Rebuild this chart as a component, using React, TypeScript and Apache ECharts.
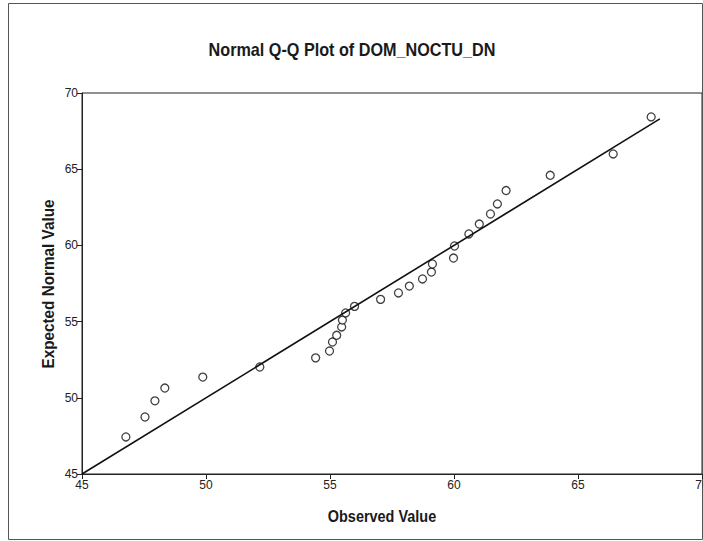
import React, { useEffect, useRef } from "react";
import * as echarts from "echarts";

const titleText = "Normal Q-Q Plot of DOM_NOCTU_DN";
const xAxisName = "Observed Value";
const yAxisName = "Expected Normal Value";

const observed = [
  46.77, 47.54, 47.94, 48.34, 49.87, 52.17, 54.42, 54.98, 55.1, 55.27, 55.47,
  55.5, 55.63, 55.99, 57.04, 57.76, 58.2, 58.73, 59.09, 59.13, 59.98, 60.02,
  60.6, 61.02, 61.47, 61.75, 62.1, 63.88, 66.42, 67.95,
];
const expected = [
  47.43, 48.74, 49.8, 50.64, 51.36, 52.02, 52.62, 53.07, 53.66, 54.1, 54.65,
  55.1, 55.57, 56.0, 56.46, 56.88, 57.33, 57.8, 58.25, 58.78, 59.17, 59.96,
  60.75, 61.4, 62.06, 62.72, 63.6, 64.6, 66.0, 68.43,
];
const refLine = [
  [45, 45],
  [68.3, 68.3],
];

export default function App() {
  const ref = useRef<HTMLDivElement>(null);
  useEffect(() => {
    if (!ref.current) return;
    const chart = echarts.init(ref.current, null, { renderer: "svg" });
    const font = "'Liberation Sans', Arial, sans-serif";
    chart.setOption({
      animation: false,
      backgroundColor: "#fff",
      grid: {
        left: 82,
        right: 1,
        top: 93,
        bottom: 67,
        outerBoundsMode: "none",
        containLabel: false,
        show: true,
        borderColor: "#222",
        borderWidth: 1,
        backgroundColor: "transparent",
      },
      xAxis: {
        type: "value",
        min: 45,
        max: 70,
        interval: 5,
        axisLine: { show: true, lineStyle: { color: "#222", width: 1 } },
        axisTick: { show: true, length: 5, lineStyle: { color: "#222" } },
        axisLabel: { fontFamily: font, fontSize: 12, color: "#222", margin: 5 },
        splitLine: { show: false },
      },
      yAxis: {
        type: "value",
        min: 45,
        max: 70,
        interval: 5,
        axisLine: { show: true, lineStyle: { color: "#222", width: 1 } },
        axisTick: { show: true, length: 5, lineStyle: { color: "#222" } },
        axisLabel: { fontFamily: font, fontSize: 12, color: "#222", margin: 4 },
        splitLine: { show: false },
      },
      graphic: [
        {
          type: "rect",
          shape: { x: 8.5, y: 3.5, width: 694, height: 536 },
          style: { fill: "none", stroke: "#555", lineWidth: 1 },
          silent: true,
        },
        {
          type: "text",
          x: 352,
          y: 50,
          scaleX: 0.9,
          style: {
            text: titleText,
            fontFamily: font,
            fontSize: 18,
            fontWeight: "bold",
            fill: "#1a1a1a",
            textAlign: "center",
            textVerticalAlign: "middle",
          },
        },
        {
          type: "text",
          x: 382,
          y: 516,
          scaleX: 0.85,
          style: {
            text: xAxisName,
            fontFamily: font,
            fontSize: 17,
            fontWeight: "bold",
            fill: "#1a1a1a",
            textAlign: "center",
            textVerticalAlign: "middle",
          },
        },
        {
          type: "text",
          x: 48,
          y: 284,
          rotation: Math.PI / 2,
          scaleX: 0.9,
          style: {
            text: yAxisName,
            fontFamily: font,
            fontSize: 17,
            fontWeight: "bold",
            fill: "#1a1a1a",
            textAlign: "center",
            textVerticalAlign: "middle",
          },
        },
      ],
      series: [
        {
          type: "line",
          data: refLine,
          symbol: "none",
          lineStyle: { color: "#111", width: 1.6 },
          silent: true,
        },
        {
          type: "scatter",
          data: observed.map((x, i) => [x, expected[i]]),
          symbol: "circle",
          symbolSize: 8,
          itemStyle: { color: "#fff", borderColor: "#111", borderWidth: 1.3 },
        },
      ],
    });
    return () => chart.dispose();
  }, []);
  return (
    <div
      ref={ref}
      style={{ position: "fixed", left: 0, top: 0, width: 703, height: 541 }}
    />
  );
}
